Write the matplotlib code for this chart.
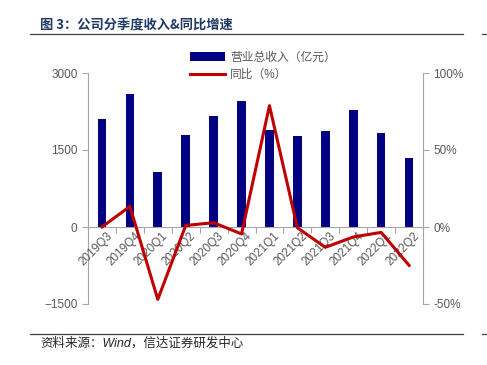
import matplotlib
matplotlib.use("Agg")
from matplotlib import pyplot as plt
import numpy as np

plt.rcParams['font.family'] = ['Liberation Sans', 'Noto Sans CJK SC', 'DejaVu Sans']

quarters = ['2019Q3', '2019Q4', '2020Q1', '2020Q2', '2020Q3', '2020Q4',
            '2021Q1', '2021Q2', '2021Q3', '2021Q4', '2022Q1', '2022Q2']
revenue = [2100, 2586, 1065, 1789, 2158, 2450, 1892, 1775, 1872, 2280, 1833, 1341]
yoy = [0.0, 13.4, -47.0, 1.0, 2.8, -4.5, 78.8, -0.5, -13.2, -6.5, -3.5, -24.9]

gray = '#595959'
navy = '#000080'
red = '#C00000'

fig = plt.figure(figsize=(4.87, 3.65), dpi=100)
ax = fig.add_axes([88 / 487, 1 - 304 / 365, 335 / 487, 231 / 365])
ax2 = ax.twinx()

x = np.arange(len(quarters))
bars = ax.bar(x, revenue, width=0.31, color=navy, label='营业总收入（亿元）', zorder=2)
line, = ax2.plot(x, yoy, color=red, lw=2.2, label='同比（%）', zorder=3)

ax.set_xlim(-0.5, len(quarters) - 0.5)
ax.set_ylim(-1500, 3000)
ax.set_yticks([-1500, 0, 1500, 3000])
ax2.set_ylim(-50, 100)
ax2.set_yticks([-50, 0, 50, 100])
ax2.set_yticklabels(['-50%', '0%', '50%', '100%'])

# line drawn above the bars
ax2.set_zorder(ax.get_zorder() + 1)
ax2.patch.set_visible(False)

for a in (ax, ax2):
    a.spines['top'].set_visible(False)
    for s in a.spines.values():
        s.set_color('#A6A6A6')
    a.tick_params(colors='#A6A6A6', labelcolor=gray, labelsize=8.5, length=4)
ax.spines['right'].set_visible(False)
ax2.spines['left'].set_visible(False)
ax2.spines['bottom'].set_visible(False)
ax.spines['bottom'].set_position(('data', 0))

ax.set_xticks(np.arange(-0.5, len(quarters) + 0.5, 1))
ax.set_xticklabels([])
ax.tick_params(axis='x', length=4)
for xi, q in zip(x, quarters):
    ax.text(xi + 0.15, -60, q, rotation=45, ha='right', va='top',
            rotation_mode='anchor', fontsize=8.5, color=gray)

fig.legend(handles=[bars, line], loc='upper left', bbox_to_anchor=(185 / 487, 1 - 47 / 365),
           frameon=False, fontsize=8.5, labelcolor=gray, handlelength=3.0,
           handletextpad=0.4, borderaxespad=0, labelspacing=0.45)

fig.text(40 / 487, 1 - 25 / 365, '图 3：公司分季度收入&同比增速', fontsize=9.5,
         fontweight='bold', color='#1F3864', va='center',
         family=['Noto Sans CJK SC', 'DejaVu Sans'])
for yy in (34, 334):
    fig.add_artist(plt.Line2D([30 / 487, 463 / 487], [1 - yy / 365] * 2, color='#404040', lw=0.9))
    fig.add_artist(plt.Line2D([482 / 487, 1.0], [1 - yy / 365] * 2, color='#404040', lw=0.9))
fig.text(40 / 487, 1 - 343 / 365, '资料来源：Wind，信达证券研发中心', fontsize=9,
         style='italic', color='#262626', va='center',
         family=['Liberation Sans', 'Noto Sans CJK SC'])

fig.savefig('out.png', dpi=100)
